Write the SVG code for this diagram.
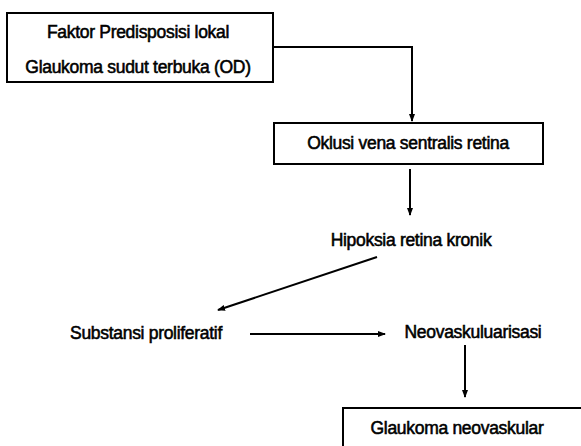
<svg xmlns="http://www.w3.org/2000/svg" width="581" height="446" viewBox="0 0 581 446">
<style>
.box{fill:#fff;stroke:#000;stroke-width:2}
.t{font-family:"Liberation Sans",Arial,sans-serif;font-size:17.5px;fill:#000;stroke:#000;stroke-width:0.55;text-anchor:middle;letter-spacing:-0.3px}
.c{fill:none;stroke:#000;stroke-width:2}
</style>
<defs>
<marker id="ah" markerWidth="8" markerHeight="6" refX="7" refY="3" orient="auto" markerUnits="userSpaceOnUse">
<path d="M0,0 L8,3 L0,6 Z" fill="#000"/>
</marker>
</defs>
<rect width="581" height="446" fill="#fff"/>
<g id="connectors">
<polyline class="c" points="273,47 412,47 412,121" marker-end="url(#ah)"/>
<line class="c" x1="410" y1="169" x2="410" y2="215" marker-end="url(#ah)"/>
<line class="c" x1="377" y1="257" x2="218" y2="310" marker-end="url(#ah)"/>
<line class="c" x1="250" y1="334" x2="385" y2="334" marker-end="url(#ah)"/>
<line class="c" x1="465" y1="345" x2="465" y2="397" marker-end="url(#ah)"/>
</g>
<g id="node1">
<rect class="box" x="7" y="13" width="266" height="69"/>
<text class="t" x="138" y="38">Faktor Predisposisi lokal</text>
<text class="t" x="138" y="73">Glaukoma sudut terbuka (OD)</text>
</g>
<g id="node2">
<rect class="box" x="274" y="123" width="269" height="41"/>
<text class="t" x="408" y="149">Oklusi vena sentralis retina</text>
</g>
<g id="node3">
<text class="t" x="411" y="246">Hipoksia retina kronik</text>
</g>
<g id="node4">
<text class="t" x="146" y="339">Substansi proliferatif</text>
</g>
<g id="node5">
<text class="t" x="473" y="338">Neovaskuluarisasi</text>
</g>
<g id="node6">
<rect class="box" x="343" y="408" width="250" height="60"/>
<text class="t" x="457" y="434">Glaukoma neovaskular</text>
</g>
</svg>
